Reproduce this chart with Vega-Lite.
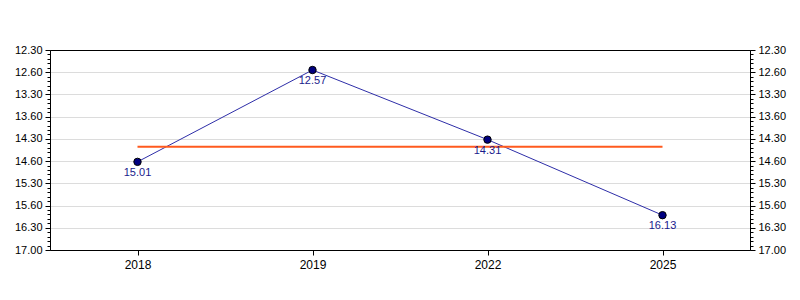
{
  "$schema": "https://vega.github.io/schema/vega-lite/v6.json",
  "width": 700,
  "height": 200,
  "autosize": "none",
  "padding": {"left": 50, "top": 50, "right": 50, "bottom": 50},
  "background": "white",
  "config": {
    "view": {"stroke": null},
    "axis": {
      "domainColor": "black",
      "tickColor": "black",
      "labelColor": "black",
      "labelFont": "Liberation Sans",
      "labelFontSize": 11,
      "gridColor": "#dcdcdc",
      "title": null
    }
  },
  "data": {
    "values": [
      {"year": 2018, "value": 15.0167, "label": "15.01"},
      {"year": 2019, "value": 12.95, "label": "12.57"},
      {"year": 2022, "value": 14.5167, "label": "14.31"},
      {"year": 2025, "value": 16.2167, "label": "16.13"}
    ]
  },
  "encoding": {
    "x": {
      "field": "year",
      "type": "ordinal",
      "scale": {"type": "point", "padding": 0.5}
    }
  },
  "layer": [
    {
      "mark": {"type": "line", "color": "#2e2ea8", "strokeWidth": 1},
      "encoding": {
        "x": {
          "field": "year",
          "type": "ordinal",
          "axis": {"orient": "bottom", "labelAngle": 0, "tickSize": 5, "labelPadding": 4, "labelFontSize": 12, "grid": false, "domain": true, "zindex": 1}
        },
        "y": {
          "field": "value",
          "type": "quantitative",
          "scale": {"domain": [12.5, 17], "reverse": true, "nice": false, "zero": false},
          "axis": {
            "orient": "left",
            "values": [12.5, 13, 13.5, 14, 14.5, 15, 15.5, 16, 16.5, 17],
            "labelExpr": "datum.value == 17 ? '17.00' : (datum.value % 1 == 0.5 ? floor(datum.value) + '.30' : (datum.value - 1) + '.60')",
            "grid": false,
            "tickSize": 5,
            "labelPadding": 3,
            "domain": true,
            "zindex": 1
          }
        }
      }
    },
    {
      "transform": [
        {"aggregate": [
          {"op": "mean", "field": "value", "as": "avg"},
          {"op": "min", "field": "year", "as": "start"},
          {"op": "max", "field": "year", "as": "end"}
        ]}
      ],
      "mark": {"type": "rule", "color": "#ff5a1e", "strokeWidth": 2},
      "encoding": {
        "x": {
          "field": "start",
          "type": "ordinal",
          "axis": {"orient": "top", "labels": false, "ticks": false, "grid": false, "domain": true, "zindex": 1}
        },
        "x2": {"field": "end"},
        "y": {
          "field": "avg",
          "type": "quantitative",
          "axis": {
            "orient": "right",
            "values": [12.5, 13, 13.5, 14, 14.5, 15, 15.5, 16, 16.5, 17],
            "labelExpr": "datum.value == 17 ? '17.00' : (datum.value % 1 == 0.5 ? floor(datum.value) + '.30' : (datum.value - 1) + '.60')",
            "grid": true,
            "tickSize": 5,
            "labelPadding": 3,
            "domain": true,
            "zindex": 0
          }
        }
      }
    },
    {
      "mark": {"type": "point", "filled": true, "fill": "#000080", "stroke": "black", "strokeWidth": 1, "size": 55, "opacity": 1},
      "encoding": {
        "x": {"field": "year", "type": "ordinal", "axis": null},
        "y": {
          "field": "value",
          "type": "quantitative",
          "axis": {
            "orient": "left",
            "values": [12.5, 12.6, 12.7, 12.8, 12.9, 13, 13.1, 13.2, 13.3, 13.4, 13.5, 13.6, 13.7, 13.8, 13.9, 14, 14.1, 14.2, 14.3, 14.4, 14.5, 14.6, 14.7, 14.8, 14.9, 15, 15.1, 15.2, 15.3, 15.4, 15.5, 15.6, 15.7, 15.8, 15.9, 16, 16.1, 16.2, 16.3, 16.4, 16.5, 16.6, 16.7, 16.8, 16.9, 17],
            "labels": false,
            "grid": false,
            "tickSize": 3,
            "domain": false
          }
        }
      }
    },
    {
      "mark": {"type": "text", "color": "#1a1a8c", "font": "Liberation Sans", "fontSize": 11, "baseline": "top", "dy": 5},
      "encoding": {
        "x": {"field": "year", "type": "ordinal", "axis": null},
        "y": {
          "field": "value",
          "type": "quantitative",
          "axis": {
            "orient": "right",
            "values": [12.5, 12.6, 12.7, 12.8, 12.9, 13, 13.1, 13.2, 13.3, 13.4, 13.5, 13.6, 13.7, 13.8, 13.9, 14, 14.1, 14.2, 14.3, 14.4, 14.5, 14.6, 14.7, 14.8, 14.9, 15, 15.1, 15.2, 15.3, 15.4, 15.5, 15.6, 15.7, 15.8, 15.9, 16, 16.1, 16.2, 16.3, 16.4, 16.5, 16.6, 16.7, 16.8, 16.9, 17],
            "labels": false,
            "grid": false,
            "tickSize": 3,
            "domain": false
          }
        },
        "text": {"field": "label", "type": "nominal"}
      }
    }
  ],
  "resolve": {"axis": {"y": "independent", "x": "independent"}}
}
